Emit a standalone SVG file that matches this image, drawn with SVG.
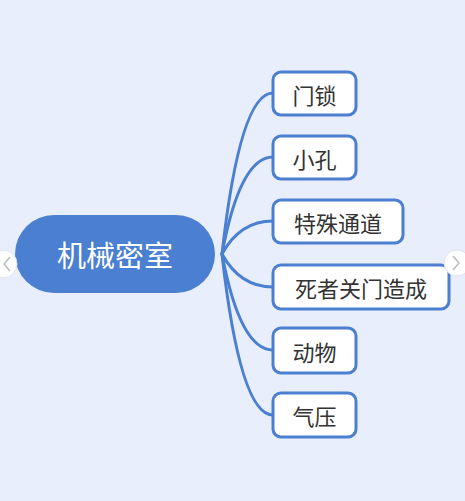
<svg xmlns="http://www.w3.org/2000/svg" width="465" height="501" viewBox="0 0 465 501">
<style>
.bg{fill:#e8eefb}
.root{fill:#4a7fd1}
.rootText{fill:#ffffff;font-family:"Noto Sans CJK SC","Noto Sans",sans-serif;font-size:29px;text-anchor:middle;dominant-baseline:central}
.child{fill:#ffffff;stroke:#4a7fd1;stroke-width:3}
.childText{fill:#333333;font-family:"Noto Sans CJK SC","Noto Sans",sans-serif;font-size:22px;text-anchor:middle;dominant-baseline:central}
.conn{fill:none;stroke:#4a7fd1;stroke-width:3;stroke-linecap:round}
.nav{fill:#ffffff;stroke:#dfe3ea;stroke-width:1}
.chev{fill:none;stroke:#b8bcc4;stroke-width:1.5}
</style>
<rect class="bg" x="0" y="0" width="465" height="501"/>
<g id="connectors">
<path class="conn" d="M222 254 Q240 93 273 93"/>
<path class="conn" d="M222 254 Q240 157 273 157"/>
<path class="conn" d="M222 254 Q240 221 273 221"/>
<path class="conn" d="M222 254 Q240 287 273 287"/>
<path class="conn" d="M222 254 Q240 350 273 350"/>
<path class="conn" d="M222 254 Q240 415 273 415"/>
</g>
<g id="root">
<rect class="root" x="15" y="215" width="200" height="78" rx="39"/>
<text class="rootText" x="115" y="254">机械密室</text>
</g>
<g id="n1"><rect class="child" x="273" y="72" width="83" height="43" rx="8"/><text class="childText" x="314.5" y="93.5">门锁</text></g>
<g id="n2"><rect class="child" x="273" y="136" width="83" height="43" rx="8"/><text class="childText" x="314.5" y="157.5">小孔</text></g>
<g id="n3"><rect class="child" x="273" y="200" width="130" height="43" rx="8"/><text class="childText" x="338" y="221.5">特殊通道</text></g>
<g id="n4"><rect class="child" x="273" y="265" width="176" height="44" rx="8"/><text class="childText" x="361" y="287">死者关门造成</text></g>
<g id="n5"><rect class="child" x="273" y="328" width="83" height="45" rx="8"/><text class="childText" x="314.5" y="350.5">动物</text></g>
<g id="n6"><rect class="child" x="273" y="393" width="83" height="44" rx="8"/><text class="childText" x="314.5" y="415">气压</text></g>
<g id="nav">
<circle class="nav" cx="3" cy="264" r="14"/>
<path class="chev" d="M10 257 L4 264 L10 271"/>
<circle class="nav" cx="457" cy="263" r="13"/>
<path class="chev" d="M453 256 L459 263 L453 270"/>
</g>
</svg>
